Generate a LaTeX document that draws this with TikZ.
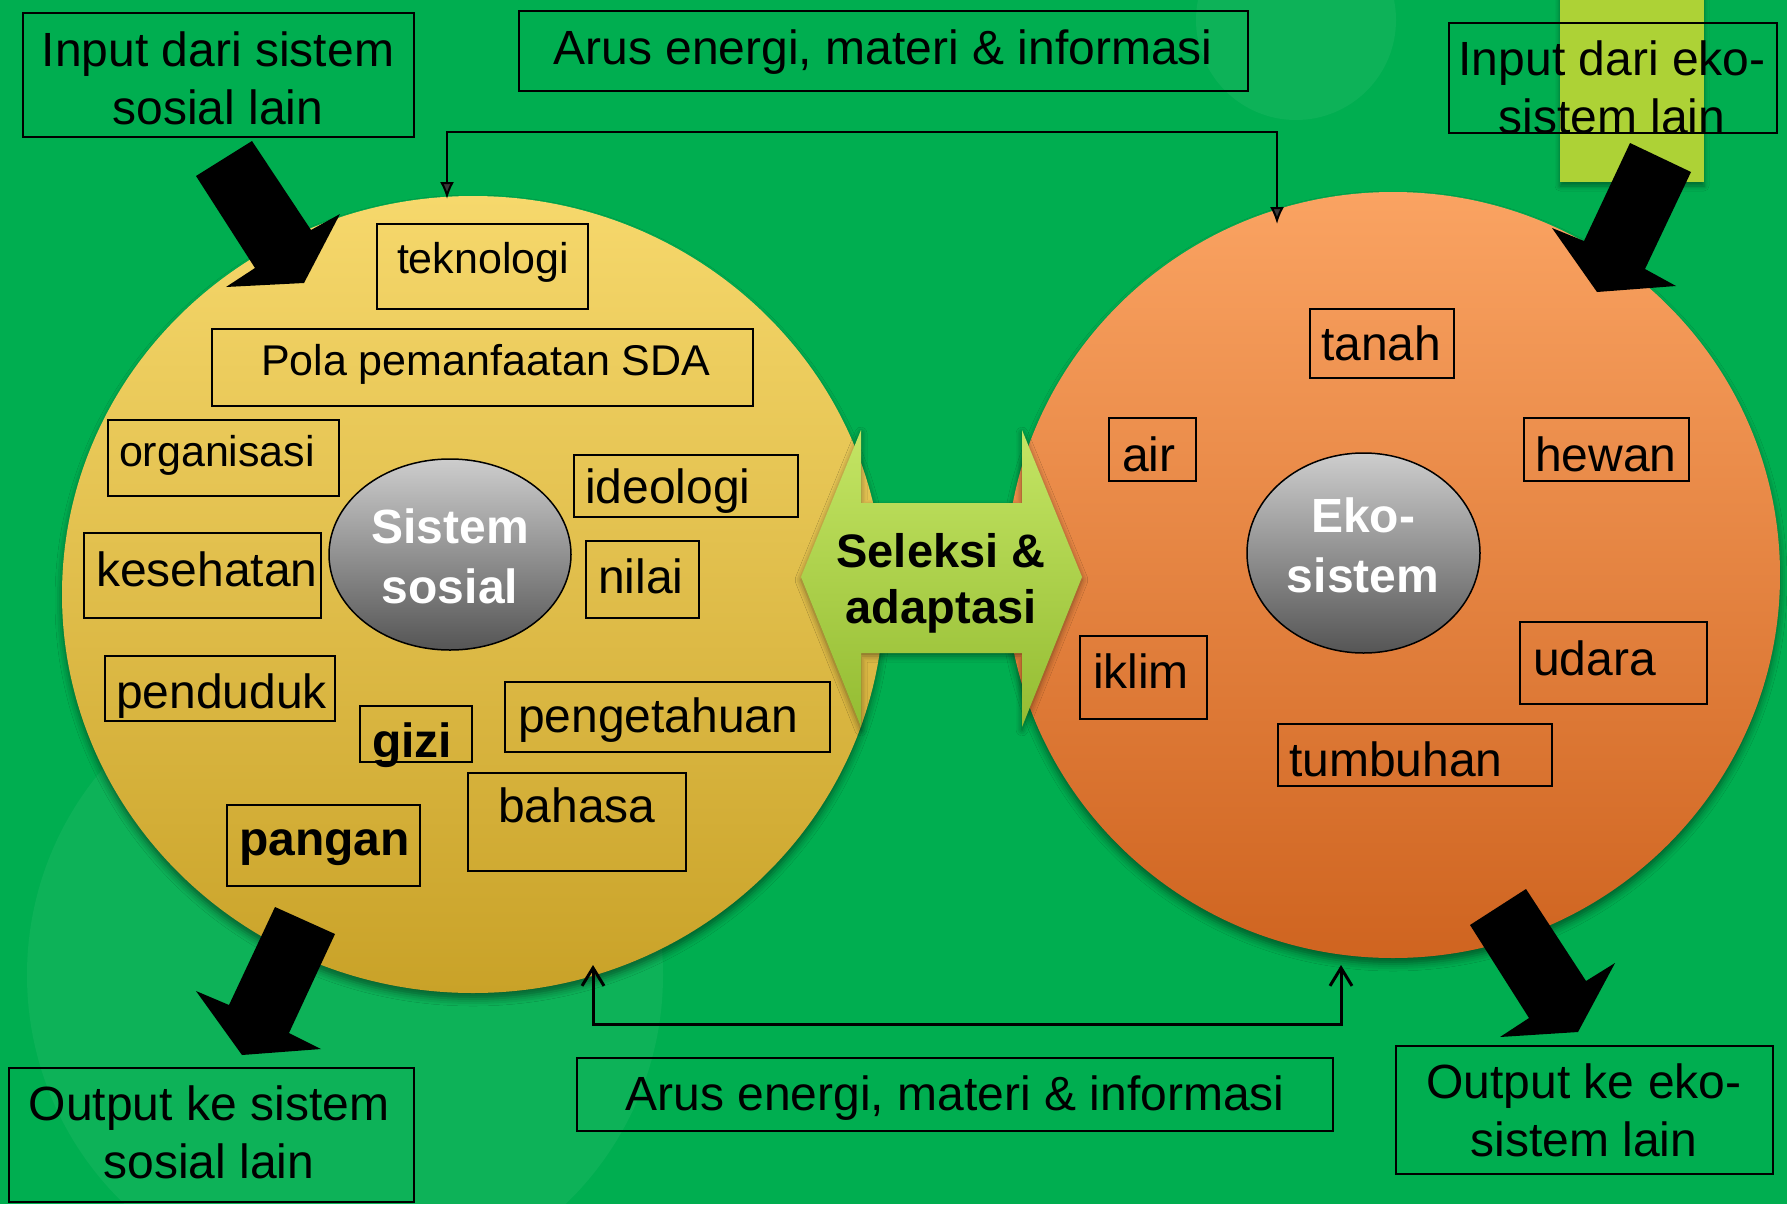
\documentclass[tikz,border=0pt]{standalone}
\usepackage{fontspec}
\setmainfont{Liberation Sans}
\usetikzlibrary{arrows.meta,shapes.geometric,shadows.blur}

\definecolor{field}{RGB}{0,174,80}
\definecolor{soctop}{RGB}{246,216,108}
\definecolor{socbot}{RGB}{201,162,40}
\definecolor{ekotop}{RGB}{250,163,98}
\definecolor{ekobot}{RGB}{207,100,32}
\definecolor{limebar}{RGB}{173,210,54}
\definecolor{seltop}{RGB}{196,229,100}
\definecolor{selbot}{RGB}{148,188,50}
\definecolor{coretop}{RGB}{205,205,205}
\definecolor{corebot}{RGB}{85,85,85}

\tikzset{
  flowtip/.tip={Latex[length=17pt,width=14pt]},
  flowbarb/.tip={Straight Barb[length=18pt,width=22pt]},
}

\begin{document}
\begin{tikzpicture}[x=1pt,y=-1pt,
  every node/.style={inner sep=0pt,outer sep=0pt},
  wbox/.style={draw=black,line width=1.6pt,anchor=north west},
  word/.style={anchor=base west,font=\fontsize{48}{57}\selectfont},
  smallword/.style={anchor=base west,font=\fontsize{43}{51}\selectfont},
  boldword/.style={anchor=base west,font=\bfseries\fontsize{48}{57}\selectfont},
  caption/.style={align=center,font=\fontsize{48}{58}\selectfont},
  flatcaption/.style={anchor=base,font=\fontsize{48}{57}\selectfont},
  world/.style={ellipse,blur shadow={shadow xshift=0pt,shadow yshift=-6pt,shadow blur radius=7pt,shadow opacity=45}},
  core/.style={ellipse,draw=black,line width=1.5pt,top color=coretop,bottom color=corebot},
  coretext/.style={align=center,text=white,font=\bfseries\fontsize{48}{60}\selectfont},
  flow/.style={line width=2pt},
]
\useasboundingbox (0,0) rectangle (1787,1204);
\fill[field] (0,0) rectangle (1787,1204);
\fill[white,opacity=0.05] (345,975) circle[radius=318pt];
\fill[white,opacity=0.05] (1296,20) circle[radius=100pt];

% lime bar behind the upper right caption
\node[fill=limebar,anchor=north west,minimum width=144pt,minimum height=192pt,
  blur shadow={shadow xshift=0pt,shadow yshift=-4pt,shadow blur radius=5pt,shadow opacity=40}]
  (bar) at (1560,-10) {};

% the two systems
\node[world,minimum width=822pt,minimum height=797pt,top color=soctop,bottom color=socbot] (soc) at (473,594.5) {};
\node[world,minimum width=774pt,minimum height=766pt,top color=ekotop,bottom color=ekobot] (eko) at (1393,575) {};

\node[core,minimum width=242pt,minimum height=191pt] (socCore) at (450,554.5) {};
\node[coretext] (socCoreText) at (450,556) {Sistem\\sosial};
\node[core,minimum width=233pt,minimum height=200pt] (ekoCore) at (1363.5,553) {};
\node[coretext] (ekoCoreText) at (1363,545) {Eko-\\sistem};

% components of the social system
\node[wbox,minimum width=211pt,minimum height=85pt] (bTek) at (377,224) {};
\node[smallword] (tTek) at (397,273) {teknologi};
\node[wbox,minimum width=541pt,minimum height=77pt] (bPola) at (212,329) {};
\node[smallword] (tPola) at (261,375) {Pola pemanfaatan SDA};
\node[wbox,minimum width=231pt,minimum height=76pt] (bOrg) at (108,420) {};
\node[smallword] (tOrg) at (119,466) {organisasi};
\node[wbox,minimum width=237pt,minimum height=85pt] (bKes) at (84,533) {};
\node[word] (tKes) at (96,586) {kesehatan};
\node[wbox,minimum width=230pt,minimum height=65pt] (bPen) at (105,656) {};
\node[word] (tPen) at (116,708) {penduduk};
\node[wbox,minimum width=112pt,minimum height=56pt] (bGizi) at (360,706) {};
\node[boldword] (tGizi) at (372,757) {gizi};
\node[wbox,minimum width=325pt,minimum height=70pt] (bPeng) at (505,682) {};
\node[word] (tPeng) at (518,732) {pengetahuan};
\node[wbox,minimum width=218pt,minimum height=98pt] (bBah) at (468,773) {};
\node[word] (tBah) at (498,822) {bahasa};
\node[wbox,minimum width=193pt,minimum height=81pt] (bPang) at (227,805) {};
\node[boldword] (tPang) at (239,855) {pangan};
\node[wbox,minimum width=224pt,minimum height=62pt] (bIde) at (574,455) {};
\node[word] (tIde) at (585,503) {ideologi};
\node[wbox,minimum width=113pt,minimum height=77pt] (bNil) at (586,541) {};
\node[word] (tNil) at (598,593) {nilai};

% components of the ecosystem
\node[wbox,minimum width=144pt,minimum height=69pt] (bTan) at (1310,309) {};
\node[word] (tTan) at (1321,360) {tanah};
\node[wbox,minimum width=87pt,minimum height=63pt] (bAir) at (1109,418) {};
\node[word] (tAir) at (1122,471) {air};
\node[wbox,minimum width=165pt,minimum height=63pt] (bHew) at (1524,418) {};
\node[word] (tHew) at (1535,471) {hewan};
\node[wbox,minimum width=127pt,minimum height=83pt] (bIkl) at (1080,636) {};
\node[word] (tIkl) at (1093,688) {iklim};
\node[wbox,minimum width=187pt,minimum height=82pt] (bUda) at (1520,622) {};
\node[word] (tUda) at (1533,675) {udara};
\node[wbox,minimum width=274pt,minimum height=62pt] (bTum) at (1278,724) {};
\node[word] (tTum) at (1289,776) {tumbuhan};

% captions
\node[wbox,minimum width=391pt,minimum height=124pt] (bInSos) at (23,13) {};
\node[caption] (tInSos) at (218,78) {Input dari sistem\\sosial lain};
\node[wbox,minimum width=328pt,minimum height=110pt] (bInEko) at (1449,23) {};
\node[caption] (tInEko) at (1612,87) {Input dari eko-\\sistem lain};
\node[wbox,minimum width=405pt,minimum height=134pt] (bOutSos) at (9,1068) {};
\node[caption] (tOutSos) at (209,1132) {Output ke sistem\\sosial lain};
\node[wbox,minimum width=377pt,minimum height=128pt] (bOutEko) at (1396,1046) {};
\node[caption] (tOutEko) at (1584,1110) {Output ke eko-\\sistem lain};
\node[wbox,minimum width=729pt,minimum height=80pt] (bFlowTop) at (519,11) {};
\node[flatcaption] (tFlowTop) at (883,65) {Arus energi, materi \& informasi};
\node[wbox,minimum width=756pt,minimum height=73pt] (bFlowBot) at (577,1058) {};
\node[flatcaption] (tFlowBot) at (955,1110) {Arus energi, materi \& informasi};

% selection and adaptation
\path[top color=seltop,bottom color=selbot,
  blur shadow={shadow xshift=0pt,shadow yshift=-3pt,shadow blur radius=6pt,shadow opacity=45}]
  (801,577) -- (861,430) -- (861,503) -- (1022,503) -- (1022,430) -- (1082,577)
  -- (1022,727) -- (1022,653) -- (861,653) -- (861,727) -- cycle;
\node[align=center,font=\bfseries\fontsize{47}{56}\selectfont] (sel) at (941,583) {Seleksi \&\\adaptasi};

% input and output block arrows
\fill[black] (196,176) -- (252,141) -- (311,230) -- (340,214) -- (304,283) -- (226,287) -- (255,268) -- cycle;
\fill[black] (1630,143) -- (1691,172) -- (1645,269) -- (1676,286) -- (1597,292) -- (1552,228) -- (1584,241) -- cycle;
\fill[black] (275,907) -- (335,934) -- (289,1033) -- (321,1049) -- (242,1055) -- (196,991) -- (229,1005) -- cycle;
\fill[black] (1470,925) -- (1526,889) -- (1586,981) -- (1615,963) -- (1578,1032) -- (1500,1037) -- (1529,1018) -- cycle;

% flows of energy, matter and information
\coordinate (topSoc) at (447,199);
\coordinate (topL) at (447,132);
\coordinate (topR) at (1277,132);
\coordinate (topEko) at (1277,224);
\draw[flow,{flowtip}-{flowtip}] (topSoc) -- (topL) -- (topR) -- (topEko);

\coordinate (botSoc) at (593,965);
\coordinate (botL) at (593,1024);
\coordinate (botR) at (1341,1024);
\coordinate (botEko) at (1341,965);
\draw[line width=3pt,{flowbarb}-{flowbarb}] (botSoc) -- (botL) -- (botR) -- (botEko);
\end{tikzpicture}
\end{document}
